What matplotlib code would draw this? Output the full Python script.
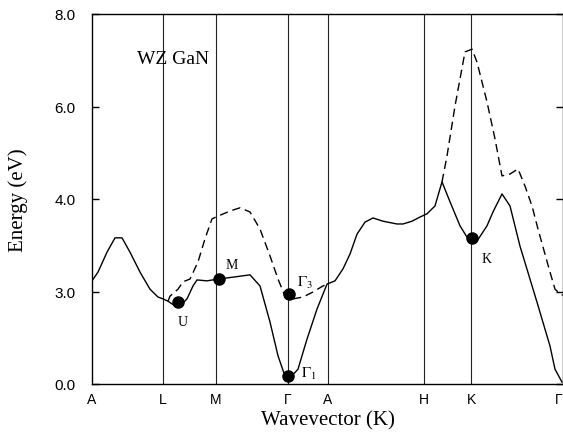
import numpy as np
import matplotlib
matplotlib.use("Agg")
import matplotlib.pyplot as plt

plt.rcParams['mathtext.fontset'] = 'stix'

# k-path (distance along path, arbitrary units)
kpoint_labels = ['A', 'L', 'M', 'Γ', 'A', 'H', 'K', 'Γ']
kpoint_pos = [0, 71, 124, 196, 236, 332, 379, 471]

# lowest conduction band (solid)
band1_k = [0, 6, 15, 23, 30, 38, 48, 58, 66, 71, 76, 83, 88, 95, 101, 105, 115,
           126, 141, 158, 168, 178, 186, 193, 197, 206, 215, 225, 235, 243, 251,
           258, 265, 273, 281, 291, 305, 311, 320, 328, 335, 343, 350, 358, 368,
           378, 385, 395, 401, 410, 418, 428, 445, 458, 463, 470]
band1_e = [2.23, 2.42, 2.85, 3.16, 3.16, 2.85, 2.42, 2.05, 1.88, 1.84, 1.79, 1.69,
           1.69, 1.84, 2.12, 2.25, 2.23, 2.27, 2.31, 2.36, 2.12, 1.34, 0.61, 0.17,
           0.11, 0.32, 0.97, 1.62, 2.16, 2.23, 2.49, 2.81, 3.24, 3.50, 3.59, 3.52,
           3.46, 3.46, 3.52, 3.61, 3.68, 3.85, 4.37, 3.94, 3.42, 3.07, 3.09, 3.42,
           3.72, 4.11, 3.85, 2.98, 1.77, 0.82, 0.32, 0.04]

# second band (dashed), two visible pieces
band2a_k = [76, 78, 86, 91, 98, 106, 113, 120, 126, 138, 148, 158, 168, 178, 186,
            193, 201, 211, 221, 231, 236]
band2a_e = [1.79, 1.90, 2.05, 2.21, 2.27, 2.64, 3.14, 3.57, 3.63, 3.74, 3.81, 3.72,
            3.35, 2.77, 2.27, 1.90, 1.84, 1.88, 1.99, 2.12, 2.16]
band2b_k = [350, 355, 363, 373, 380, 385, 395, 403, 410, 418, 426, 433, 440, 446,
            458, 463, 468, 471]
band2b_e = [4.37, 4.93, 6.01, 7.18, 7.24, 6.96, 6.10, 5.30, 4.50, 4.54, 4.65, 4.28,
            3.85, 3.35, 2.42, 2.05, 1.95, 1.92]

# valley points
valley_k = [86, 127, 197, 196, 380]
valley_e = [1.77, 2.27, 1.95, 0.17, 3.16]

ytick_pos = [0, 2, 4, 6, 8]
ytick_labels = ['0.0', '3.0', '4.0', '6.0', '8.0']

fig = plt.figure(figsize=(5.63, 4.35), dpi=100)
ax = fig.add_axes([92 / 563, 50 / 435, 471 / 563, 370 / 435])

for x in kpoint_pos[1:-1]:
    ax.axvline(x, color='#222222', lw=0.8)

ax.plot(band1_k, band1_e, color='black', lw=1.0)
ax.plot(band2a_k, band2a_e, color='black', lw=1.0, dashes=(6, 3.5))
ax.plot(band2b_k, band2b_e, color='black', lw=1.0, dashes=(6, 3.5))
ax.plot(valley_k, valley_e, 'o', color='black', ms=8)

serif = 'Liberation Serif'
ax.text(91, 1.36, 'U', family=serif, fontsize=10, ha='center', va='center')
ax.text(140, 2.59, 'M', family=serif, fontsize=10, ha='center', va='center')
ax.text(205, 2.12, r'$\Gamma_3$', fontsize=11, ha='left', va='baseline')
ax.text(209, 0.15, r'$\Gamma_1$', fontsize=11, ha='left', va='baseline')
ax.text(395, 2.72, 'K', family=serif, fontsize=10, ha='center', va='center')
ax.text(45, 7.03, 'WZ GaN', family=serif, fontsize=14, ha='left', va='center')

ax.set_xlim(0, 471)
ax.set_ylim(0, 8)
ax.set_xticks(kpoint_pos)
ax.set_xticklabels(kpoint_labels, family='Liberation Sans', fontsize=10)
ax.get_xticklabels()[-1].set_ha('right')
ax.set_yticks(ytick_pos)
ax.set_yticklabels(ytick_labels, family='Liberation Sans', fontsize=11)
ax.tick_params(axis='x', length=0, pad=6)
ax.tick_params(axis='y', direction='in', length=5, width=1, pad=12,
               left=True, right=True)

ax.set_xlabel('Wavevector (K)', family=serif, fontsize=15, labelpad=3)
ax.set_ylabel('Energy (eV)', family=serif, fontsize=15)
ax.yaxis.set_label_coords(-0.136, 0.5)

for s in ax.spines.values():
    s.set_linewidth(1.0)

fig.savefig('out.png', dpi=100)
